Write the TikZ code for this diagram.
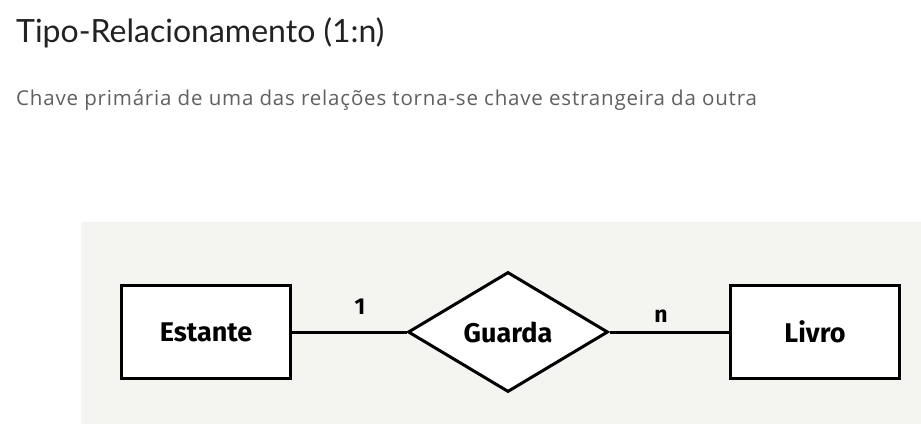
\documentclass[tikz,border=0pt]{standalone}
\usepackage{fontspec}
\setmainfont{Lato}
\newfontfamily\subfont[LetterSpace=4]{Open Sans}
\newfontfamily\erfont{Fira Sans}
\usetikzlibrary{shapes.geometric}
\definecolor{titlecol}{HTML}{222222}
\definecolor{subcol}{HTML}{606060}
\definecolor{panelcol}{HTML}{F4F4F1}
\tikzset{
  px/.style={x=1pt,y=-1pt},
  entity/.style={draw=black,line width=3pt,fill=white,minimum width=169pt,minimum height=93pt,inner sep=0pt,font=\erfont\fontsize{27}{30}\selectfont\bfseries},
  relation/.style={draw=black,line width=3pt,fill=white,diamond,minimum width=200pt,minimum height=120pt,inner sep=0pt,font=\erfont\fontsize{27}{30}\selectfont\bfseries},
  conn/.style={line width=3pt},
  card/.style={font=\erfont\fontsize{23}{26}\selectfont\bfseries,inner sep=0pt}
}
\begin{document}
\begin{tikzpicture}[px]
\useasboundingbox (0,0) rectangle (921,439);
\fill[white] (0,0) rectangle (921,439);
\fill[panelcol] (81,222) rectangle (921,424);
\node[anchor=base west,text=titlecol,font=\fontsize{32}{36}\selectfont,inner sep=0pt] (title) at (16,42) {Tipo-Relacionamento (1:n)};
\node[anchor=base west,text=subcol,font=\subfont\fontsize{20.5}{24}\selectfont,inner sep=0pt] (sub) at (16,105) {Chave primária de uma das relações torna-se chave estrangeira da outra};
\node[entity] (est) at (206,332) {Estante};
\node[relation] (gua) at (508,332) {Guarda};
\node[entity] (liv) at (815,332) {Livro};
\draw[conn] (est.east) -- (gua.west);
\draw[conn] (gua.east) -- (liv.west);
\node[card] (c1) at (360,307) {1};
\node[card] (cn) at (661,316) {n};
\end{tikzpicture}
\end{document}
